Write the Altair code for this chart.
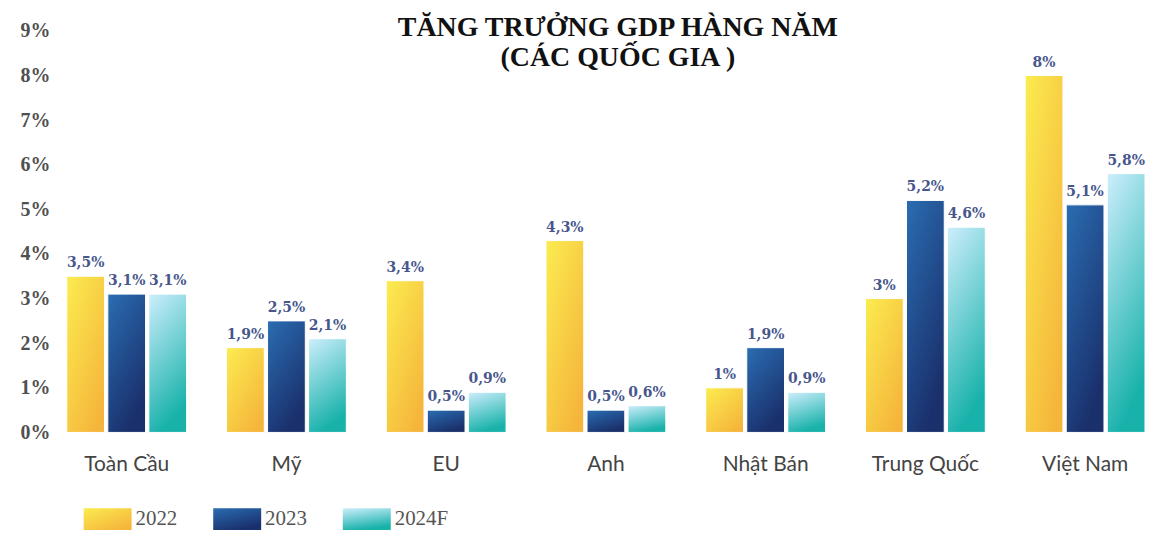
import altair as alt
import pandas as pd

countries = ["Toàn Cầu", "Mỹ", "EU", "Anh", "Nhật Bán", "Trung Quốc", "Việt Nam"]
years = ["2022", "2023", "2024F"]
g2022 = [3.5, 1.9, 3.4, 4.3, 1.0, 3.0, 8.0]
g2023 = [3.1, 2.5, 0.5, 0.5, 1.9, 5.2, 5.1]
g2024 = [3.1, 2.1, 0.9, 0.6, 0.9, 4.6, 5.8]
y_ticks = [0, 1, 2, 3, 4, 5, 6, 7, 8, 9]
title_lines = ["TĂNG TRƯỞNG GDP HÀNG NĂM", "(CÁC QUỐC GIA )"]


def fmt(v):
    return f"{v:g}".replace(".", ",") + "%"


rows = []
for yr, vals in zip(years, [g2022, g2023, g2024]):
    for c, v in zip(countries, vals):
        rows.append({"country": c, "year": yr, "value": v, "label": fmt(v)})
df = pd.DataFrame(rows)


def grad(c1, c2, x2=0.5):
    return alt.LinearGradient(
        gradient="linear",
        stops=[alt.GradientStop(color=c1, offset=0), alt.GradientStop(color=c2, offset=1)],
        x1=0, y1=0, x2=x2, y2=1,
    )


fills = {
    "2022": grad("#fbec50", "#f5b43a", 0.8),
    "2023": grad("#2a6db2", "#1a306c", 0.5),
    "2024F": grad("#cdeefc", "#19b2ab", 0.3),
}

x = alt.X(
    "country:N", sort=countries,
    scale=alt.Scale(paddingInner=0.25, paddingOuter=0),
    axis=alt.Axis(title=None, labelAngle=0, domain=False, ticks=False, labelPadding=21,
                  labelFont="Lato", labelFontSize=21, labelColor="#444444"),
)
xo = alt.XOffset("year:N", sort=years, scale=alt.Scale(domain=years, paddingInner=0.08))
y = alt.Y(
    "value:Q",
    scale=alt.Scale(domain=[0, 9], nice=False),
    axis=alt.Axis(values=y_ticks, labelExpr="datum.value + '%'", title=None, domain=False,
                  ticks=False, grid=False, labelPadding=17, labelFont="Liberation Serif",
                  labelFontWeight="bold", labelFontSize=20, labelColor="#505050"),
)

bar_layers = [
    alt.Chart(df).transform_filter(alt.datum.year == yr)
    .mark_bar(color=fills[yr], stroke="#ffffff", strokeWidth=1)
    .encode(x=x, xOffset=xo, y=y)
    for yr in years
]
labels = alt.Chart(df).mark_text(
    baseline="bottom", dy=-6, font="DejaVu Serif", fontWeight="bold",
    fontSize=14, color="#47578c",
).encode(x=x, xOffset=xo, y=y, text="label:N")

top = alt.layer(*bar_layers, labels).properties(
    width=1082, height=403,
    title=alt.TitleParams(text=title_lines, font="Liberation Serif", fontSize=28,
                          fontWeight="bold", color="#111111", anchor="middle",
                          frame="group", dx=12, offset=-51, lineHeight=30),
)

leg_df = pd.DataFrame({"year": years})
lx = alt.X("year:N", sort=years, scale=alt.Scale(paddingInner=0.63, paddingOuter=0.13), axis=None)
swatches = [
    alt.Chart(leg_df).transform_filter(alt.datum.year == yr)
    .mark_rect(color=fills[yr]).encode(x=lx)
    for yr in years
]
leg_text = alt.Chart(leg_df).mark_text(
    align="left", baseline="middle", dx=28, font="Liberation Serif", fontSize=21, color="#555555"
).encode(x=lx, text="year:N")
legend = alt.layer(*swatches, leg_text).properties(width=342, height=22)

chart = (
    alt.vconcat(top, legend, spacing=34)
    .resolve_scale(x="independent")
    .properties(padding={"left": 12, "top": 5, "right": 0, "bottom": 5}, background="white")
    .configure_view(strokeWidth=0)
)
chart.save("out.html", embed_options={"renderer": "svg", "actions": False})
